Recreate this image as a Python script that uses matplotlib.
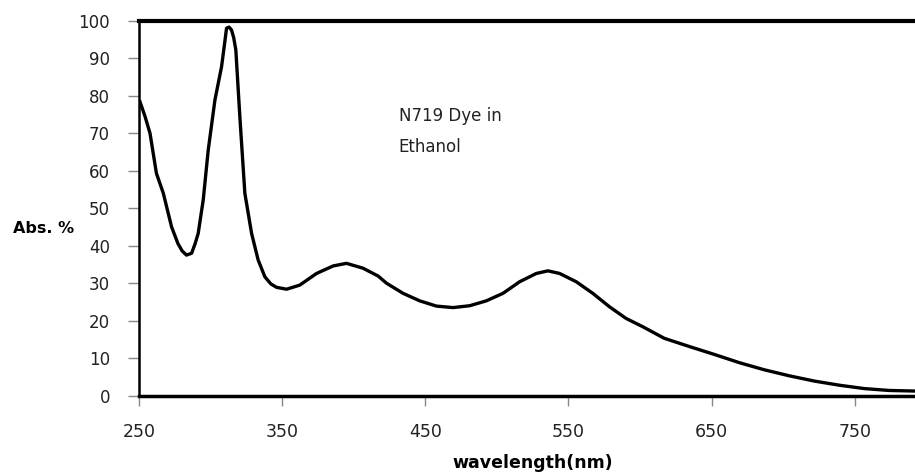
# N719 dye absorption spectrum

import matplotlib
matplotlib.use("Agg")
import matplotlib.pyplot as plt


# Data

wavelength = [250.5, 254, 257.5, 262, 266.8, 272.6, 277, 280, 283, 286.6,
              289, 291.2, 294.7, 298.2, 302.9, 307.5, 309.5, 311, 312.8, 314.5,
              316, 317.5, 320.3, 323.8, 328.5, 333.1, 337.8, 342, 346, 353,
              362.2, 373.9, 385.5, 394.8, 406.4, 417, 422.8, 434.4, 446, 457.7,
              469.3, 481, 492.6, 504.2, 515.9, 527.5, 535.6, 543.8, 555.4, 567,
              578.7, 590.3, 601.9, 617, 634.6, 652, 669.5, 687, 704.4, 721.9,
              739.3, 756.8, 774.2, 791.7, 800]
absorbance = [78.4, 74.5, 70, 59.3, 54, 45, 40.6, 38.6, 37.5, 38,
              40.5, 43.3, 52.2, 65.5, 78.9, 87.7, 93.5, 98, 98.3, 97.5,
              95.5, 92.2, 74.4, 54, 43.3, 36.2, 31.7, 29.8, 28.9, 28.4,
              29.5, 32.6, 34.6, 35.3, 34, 31.9, 30, 27.3, 25.3, 23.9,
              23.5, 24, 25.3, 27.3, 30.4, 32.6, 33.3, 32.6, 30.4, 27.3,
              23.7, 20.6, 18.4, 15.3, 13.1, 11, 8.8, 6.9, 5.3, 3.9,
              2.8, 1.9, 1.4, 1.25, 1.2]

x_ticks = [250, 350, 450, 550, 650, 750]
y_ticks = [0, 10, 20, 30, 40, 50, 60, 70, 80, 90, 100]


fig = plt.figure(figsize=(9.15, 4.73), dpi=100)
ax = fig.add_axes([0.1522, 0.1634, 0.860, 0.7928])

ax.plot(wavelength, absorbance, color="black", linewidth=2.4)

ax.set_xlim(250, 800)
ax.set_ylim(0, 100)
ax.set_xticks(x_ticks)
ax.set_yticks(y_ticks)

ax.tick_params(axis="y", direction="out", length=8, width=1, color="#888888",
               pad=13, labelsize=12, labelcolor="#222222")
ax.tick_params(axis="x", direction="out", length=7, width=1, color="#888888",
               pad=13, labelsize=12.5, labelcolor="#222222")

ax.spines["top"].set_linewidth(3)
ax.spines["left"].set_linewidth(1.8)
ax.spines["bottom"].set_linewidth(2.5)
ax.spines["right"].set_visible(False)

ax.set_xlabel("wavelength(nm)", fontsize=12.5, fontweight="bold", labelpad=9)
fig.text(13 / 915, 1 - 228 / 473, "Abs. %", fontsize=11.5, fontweight="bold",
         va="center", ha="left")

ax.text(431.4, 77, "N719 Dye in\nEthanol", fontsize=12, va="top", ha="left",
        linespacing=1.9, color="#222222")

fig.savefig("out.png", dpi=100)
